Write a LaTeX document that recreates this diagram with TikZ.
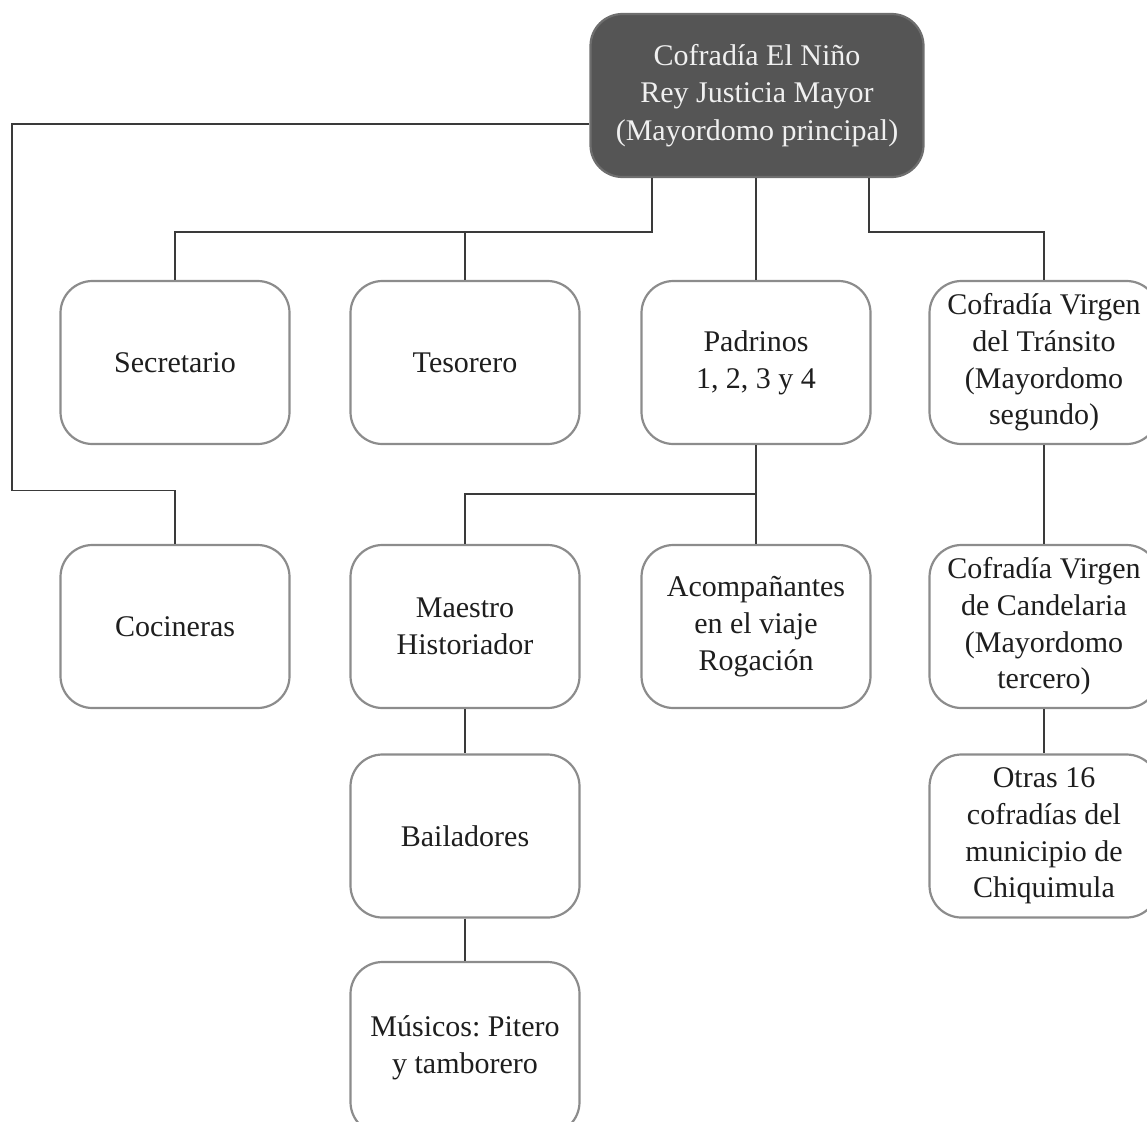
\documentclass[tikz,border=0pt]{standalone}
\usepackage{fontspec}
\setmainfont{Liberation Serif}
\frenchspacing
\definecolor{boxgray}{HTML}{8C8C8C}
\definecolor{linegray}{HTML}{3A3A3A}
\definecolor{topfill}{HTML}{555555}
\definecolor{txt}{HTML}{1E1E1E}
\begin{document}
\begin{tikzpicture}[x=1pt,y=-1pt,
  orgbox/.style={draw=boxgray, line width=2.2pt, rounded corners=32pt, fill=white,
    minimum width=229pt, minimum height=163pt, inner sep=0pt, align=center,
    text=txt, font=\fontsize{30}{36.7}\selectfont},
  topbox/.style={orgbox, fill=topfill, draw=topfill!85!white, text=white!94!black,
    minimum width=333pt, font=\fontsize{30}{37.5}\selectfont},
  conn/.style={draw=linegray, line width=1.4pt}]
\useasboundingbox (0,0) rectangle (1147,1121);
% nodes
\node[topbox] (top) at (757,95.5) {Cofradía El Niño\\Rey Justicia Mayor\\(Mayordomo principal)};
\node[orgbox] (sec) at (175,362.5) {Secretario};
\node[orgbox] (tes) at (465,362.5) {Tesorero};
\node[orgbox] (pad) at (756,362.5) {Padrinos\\1, 2, 3 y 4};
\node[orgbox] (tra) at (1044,362.5) {Cofradía Virgen\\del Tránsito\\(Mayordomo\\segundo)};
\node[orgbox] (coc) at (175,626.5) {Cocineras};
\node[orgbox] (mae) at (465,626.5) {Maestro\\Historiador};
\node[orgbox] (aco) at (756,626.5) {Acompañantes\\en el viaje\\Rogación};
\node[orgbox] (can) at (1044,626.5) {Cofradía Virgen\\de Candelaria\\(Mayordomo\\tercero)};
\node[orgbox] (bai) at (465,836) {Bailadores};
\node[orgbox] (otr) at (1044,836) {Otras 16\\cofradías del\\municipio de\\Chiquimula};
\node[orgbox, minimum height=172pt] (mus) at (465,1048) {Músicos: Pitero\\y tamborero};
% junction coordinates
\coordinate (jl) at (652,232);
\coordinate (jr) at (869,232);
\coordinate (cl) at (12,124);
\coordinate (cb) at (12,490.5);
\coordinate (jm) at (756,494);
% connectors
\draw[conn] (jl |- top.south) -- (jl) -| (sec.north);
\draw[conn] (tes.north |- jl) -- (tes.north);
\draw[conn] (top.south -| pad.north) -- (pad.north);
\draw[conn] (jr |- top.south) -- (jr) -| (tra.north);
\draw[conn] (top.west |- cl) -- (cl) -- (cb) -| (coc.north);
\draw[conn] (pad.south) -- (aco.north);
\draw[conn] (jm) -| (mae.north);
\draw[conn] (mae.south) -- (bai.north);
\draw[conn] (bai.south) -- (mus.north);
\draw[conn] (tra.south) -- (can.north);
\draw[conn] (can.south) -- (otr.north);
\end{tikzpicture}
\end{document}
